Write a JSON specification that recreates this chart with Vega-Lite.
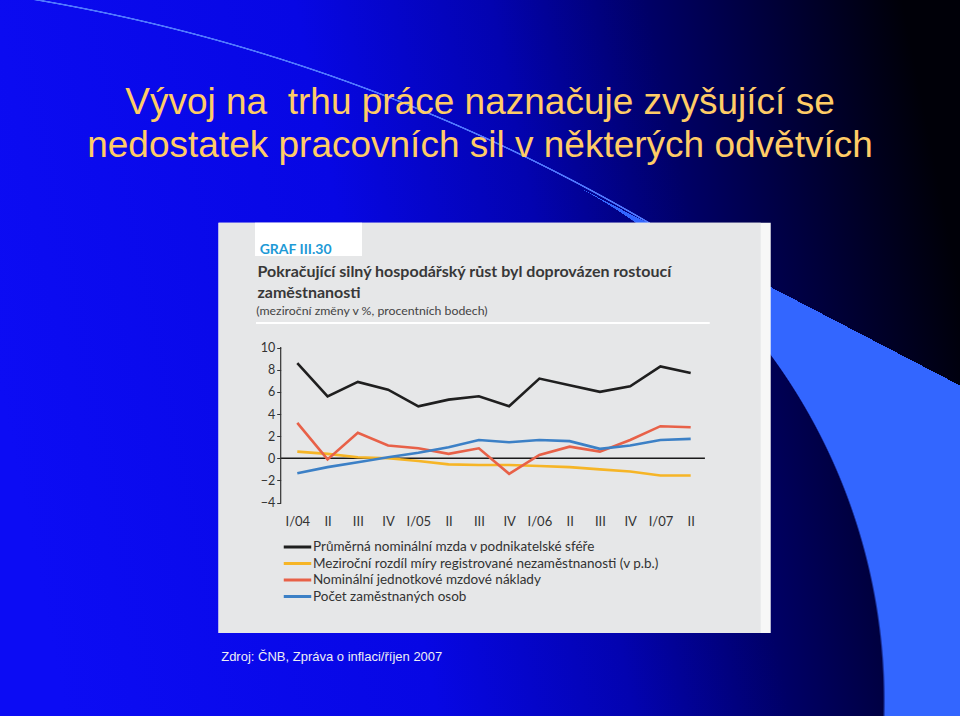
{
  "$schema": "https://vega.github.io/schema/vega-lite/v6.json",
  "width": 960,
  "height": 716,
  "autosize": {"type": "none"},
  "padding": 0,
  "background": "#0505C8",
  "view": {"stroke": null},
  "config": {"font": "Lato"},
  "title": {
    "text": ["Vývoj na\u00a0 trhu práce naznačuje zvyšující se", "nedostatek pracovních sil v některých odvětvích"],
    "font": "Liberation Sans",
    "fontSize": 37,
    "fontWeight": "normal",
    "color": "#FFCC66",
    "anchor": "middle",
    "frame": "group",
    "lineHeight": 43,
    "offset": -165
  },
  "datasets": {
    "series": [
      {"s": "Průměrná nominální mzda v podnikatelské sféře", "i": 0, "v": 8.6},
      {"s": "Průměrná nominální mzda v podnikatelské sféře", "i": 1, "v": 5.6},
      {"s": "Průměrná nominální mzda v podnikatelské sféře", "i": 2, "v": 6.9},
      {"s": "Průměrná nominální mzda v podnikatelské sféře", "i": 3, "v": 6.2},
      {"s": "Průměrná nominální mzda v podnikatelské sféře", "i": 4, "v": 4.7},
      {"s": "Průměrná nominální mzda v podnikatelské sféře", "i": 5, "v": 5.3},
      {"s": "Průměrná nominální mzda v podnikatelské sféře", "i": 6, "v": 5.6},
      {"s": "Průměrná nominální mzda v podnikatelské sféře", "i": 7, "v": 4.7},
      {"s": "Průměrná nominální mzda v podnikatelské sféře", "i": 8, "v": 7.2},
      {"s": "Průměrná nominální mzda v podnikatelské sféře", "i": 9, "v": 6.6},
      {"s": "Průměrná nominální mzda v podnikatelské sféře", "i": 10, "v": 6.0},
      {"s": "Průměrná nominální mzda v podnikatelské sféře", "i": 11, "v": 6.5},
      {"s": "Průměrná nominální mzda v podnikatelské sféře", "i": 12, "v": 8.3},
      {"s": "Průměrná nominální mzda v podnikatelské sféře", "i": 13, "v": 7.7},
      {"s": "Meziroční rozdíl míry registrované nezaměstnanosti (v p.b.)", "i": 0, "v": 0.6},
      {"s": "Meziroční rozdíl míry registrované nezaměstnanosti (v p.b.)", "i": 1, "v": 0.4},
      {"s": "Meziroční rozdíl míry registrované nezaměstnanosti (v p.b.)", "i": 2, "v": 0.1},
      {"s": "Meziroční rozdíl míry registrované nezaměstnanosti (v p.b.)", "i": 3, "v": 0.0},
      {"s": "Meziroční rozdíl míry registrované nezaměstnanosti (v p.b.)", "i": 4, "v": -0.25},
      {"s": "Meziroční rozdíl míry registrované nezaměstnanosti (v p.b.)", "i": 5, "v": -0.55},
      {"s": "Meziroční rozdíl míry registrované nezaměstnanosti (v p.b.)", "i": 6, "v": -0.6},
      {"s": "Meziroční rozdíl míry registrované nezaměstnanosti (v p.b.)", "i": 7, "v": -0.6},
      {"s": "Meziroční rozdíl míry registrované nezaměstnanosti (v p.b.)", "i": 8, "v": -0.7},
      {"s": "Meziroční rozdíl míry registrované nezaměstnanosti (v p.b.)", "i": 9, "v": -0.8},
      {"s": "Meziroční rozdíl míry registrované nezaměstnanosti (v p.b.)", "i": 10, "v": -1.0},
      {"s": "Meziroční rozdíl míry registrované nezaměstnanosti (v p.b.)", "i": 11, "v": -1.2},
      {"s": "Meziroční rozdíl míry registrované nezaměstnanosti (v p.b.)", "i": 12, "v": -1.55},
      {"s": "Meziroční rozdíl míry registrované nezaměstnanosti (v p.b.)", "i": 13, "v": -1.55},
      {"s": "Nominální jednotkové mzdové náklady", "i": 0, "v": 3.2},
      {"s": "Nominální jednotkové mzdové náklady", "i": 1, "v": -0.1},
      {"s": "Nominální jednotkové mzdové náklady", "i": 2, "v": 2.3},
      {"s": "Nominální jednotkové mzdové náklady", "i": 3, "v": 1.15},
      {"s": "Nominální jednotkové mzdové náklady", "i": 4, "v": 0.9},
      {"s": "Nominální jednotkové mzdové náklady", "i": 5, "v": 0.4},
      {"s": "Nominální jednotkové mzdové náklady", "i": 6, "v": 0.9},
      {"s": "Nominální jednotkové mzdové náklady", "i": 7, "v": -1.4},
      {"s": "Nominální jednotkové mzdové náklady", "i": 8, "v": 0.3},
      {"s": "Nominální jednotkové mzdové náklady", "i": 9, "v": 1.05},
      {"s": "Nominální jednotkové mzdové náklady", "i": 10, "v": 0.6},
      {"s": "Nominální jednotkové mzdové náklady", "i": 11, "v": 1.65},
      {"s": "Nominální jednotkové mzdové náklady", "i": 12, "v": 2.9},
      {"s": "Nominální jednotkové mzdové náklady", "i": 13, "v": 2.8},
      {"s": "Počet zaměstnaných osob", "i": 0, "v": -1.35},
      {"s": "Počet zaměstnaných osob", "i": 1, "v": -0.8},
      {"s": "Počet zaměstnaných osob", "i": 2, "v": -0.35},
      {"s": "Počet zaměstnaných osob", "i": 3, "v": 0.1},
      {"s": "Počet zaměstnaných osob", "i": 4, "v": 0.5},
      {"s": "Počet zaměstnaných osob", "i": 5, "v": 1.0},
      {"s": "Počet zaměstnaných osob", "i": 6, "v": 1.65},
      {"s": "Počet zaměstnaných osob", "i": 7, "v": 1.45},
      {"s": "Počet zaměstnaných osob", "i": 8, "v": 1.65},
      {"s": "Počet zaměstnaných osob", "i": 9, "v": 1.55},
      {"s": "Počet zaměstnaných osob", "i": 10, "v": 0.85},
      {"s": "Počet zaměstnaných osob", "i": 11, "v": 1.15},
      {"s": "Počet zaměstnaných osob", "i": 12, "v": 1.65},
      {"s": "Počet zaměstnaných osob", "i": 13, "v": 1.75}
    ]
  },
  "layer": [
    {
      "data": {"values": [{}]},
      "mark": {
        "type": "rect",
        "fill": {
          "gradient": "linear",
          "x1": 0, "y1": 0.55, "x2": 1, "y2": 0.4,
          "stops": [
            {"offset": 0, "color": "#0C0CF4"},
            {"offset": 0.38, "color": "#0707E4"},
            {"offset": 0.58, "color": "#0303B0"},
            {"offset": 0.74, "color": "#000066"},
            {"offset": 0.9, "color": "#00002C"},
            {"offset": 1, "color": "#000008"}
          ]
        }
      },
      "encoding": {}
    },
    {
      "data": {"values": [{}]},
      "mark": {
        "type": "rect",
        "fill": {
          "gradient": "radial",
          "x1": -0.28083, "y1": 1.99479, "r1": 0,
          "x2": -0.28083, "y2": 1.99479, "r2": 1.89688,
          "stops": [
            {"offset": 0, "color": "rgba(80,120,255,0)"},
            {"offset": 0.99835, "color": "rgba(80,120,255,0)"},
            {"offset": 0.99865, "color": "#5078FF"},
            {"offset": 0.99925, "color": "#5078FF"},
            {"offset": 0.99955, "color": "rgba(80,120,255,0)"},
            {"offset": 1, "color": "rgba(80,120,255,0)"}
          ]
        }
      },
      "encoding": {}
    },
    {
      "data": {"values": [{}]},
      "mark": {
        "type": "rect",
        "fill": {
          "gradient": "radial",
          "x1": 0.63302, "y1": 2.09896, "r1": 1.5625,
          "x2": 0.31146, "y2": 0.85625, "r2": 0.60833,
          "stops": [
            {"offset": 0, "color": "rgba(51,102,255,0)"},
            {"offset": 0.002, "color": "#3366FF"},
            {"offset": 0.998, "color": "#3366FF"},
            {"offset": 1, "color": "rgba(51,102,255,0)"}
          ]
        }
      },
      "encoding": {}
    },
    {
      "data": {"values": [{}]},
      "mark": {"type": "rect", "color": "#F7F7F7"},
      "encoding": {
        "x": {"datum": -2.604, "type": "quantitative", "scale": {"domain": [-9.825, 21.9], "nice": false, "zero": false}},
        "x2": {"datum": 15.645},
        "y": {"datum": 21.28, "type": "quantitative", "scale": {"domain": [-23.28, 41.4], "nice": false, "zero": false}},
        "y2": {"datum": -15.78}
      }
    },
    {
      "data": {"values": [{}]},
      "mark": {"type": "rect", "color": "#E6E7E8"},
      "encoding": {
        "x": {"datum": -2.604, "type": "quantitative", "scale": {"domain": [-9.825, 21.9], "nice": false, "zero": false}},
        "x2": {"datum": 15.314},
        "y": {"datum": 21.28, "type": "quantitative", "scale": {"domain": [-23.28, 41.4], "nice": false, "zero": false}},
        "y2": {"datum": -15.78}
      }
    },
    {
      "data": {"values": [{}]},
      "mark": {"type": "rect", "color": "#FFFFFF"},
      "encoding": {
        "x": {"datum": -1.398, "type": "quantitative", "scale": {"domain": [-9.825, 21.9], "nice": false, "zero": false}},
        "x2": {"datum": 2.138},
        "y": {"datum": 21.28, "type": "quantitative", "scale": {"domain": [-23.28, 41.4], "nice": false, "zero": false}},
        "y2": {"datum": 18.27}
      }
    },
    {
      "data": {"values": [{}]},
      "mark": {"type": "rule", "color": "#FFFFFF", "strokeWidth": 2},
      "encoding": {
        "x": {"datum": -1.365, "type": "quantitative", "scale": {"domain": [-9.825, 21.9], "nice": false, "zero": false}},
        "x2": {"datum": 13.63},
        "y": {"datum": 12.22, "type": "quantitative", "scale": {"domain": [-23.28, 41.4], "nice": false, "zero": false}}
      }
    },
    {
      "data": {"values": [{}]},
      "mark": {"type": "rule", "color": "#1A1A1A", "strokeWidth": 1.5},
      "encoding": {
        "x": {"datum": -0.549, "type": "quantitative", "scale": {"domain": [-9.825, 21.9], "nice": false, "zero": false}},
        "x2": {"datum": 13.47},
        "y": {"datum": 0, "type": "quantitative", "scale": {"domain": [-23.28, 41.4], "nice": false, "zero": false}}
      }
    },
    {
      "data": {"values": [{}]},
      "mark": {"type": "rule", "color": "#333333", "strokeWidth": 1.2},
      "encoding": {
        "x": {"datum": -0.549, "type": "quantitative", "scale": {"domain": [-9.825, 21.9], "nice": false, "zero": false}},
        "y": {"datum": -4.05, "type": "quantitative", "scale": {"domain": [-23.28, 41.4], "nice": false, "zero": false}},
        "y2": {"datum": 10.05}
      }
    },
    {
      "data": {"name": "series"},
      "mark": {"type": "line", "strokeWidth": 2.6, "strokeJoin": "miter", "strokeCap": "butt"},
      "encoding": {
        "x": {
          "field": "i",
          "type": "quantitative",
          "scale": {"domain": [-9.825, 21.9], "nice": false, "zero": false},
          "axis": {
            "zindex": 2,
            "values": [0, 1, 2, 3, 4, 5, 6, 7, 8, 9, 10, 11, 12, 13],
            "labelExpr": "['I/04','II','III','IV','I/05','II','III','IV','I/06','II','III','IV','I/07','II'][datum.value]",
            "offset": -201,
            "ticks": false,
            "domain": false,
            "grid": false,
            "labelPadding": 0,
            "labelFont": "Lato",
            "labelFontSize": 13,
            "labelColor": "#333333",
            "labelOverlap": false,
            "labelFlush": false,
            "title": "Zdroj: ČNB, Zpráva o inflaci/říjen 2007",
            "titleX": 220.7,
            "titleY": 145.7,
            "titleAlign": "left",
            "titleBaseline": "alphabetic",
            "titleFont": "Liberation Sans",
            "titleFontSize": 13,
            "titleFontWeight": "normal",
            "titleColor": "#EEEEF4"
          }
        },
        "y": {
          "field": "v",
          "type": "quantitative",
          "scale": {"domain": [-23.28, 41.4], "nice": false, "zero": false},
          "axis": {
            "zindex": 2,
            "values": [-4, -2, 0, 2, 4, 6, 8, 10],
            "offset": -280.7,
            "domain": false,
            "grid": false,
            "ticks": true,
            "tickSize": 4,
            "tickColor": "#333333",
            "tickWidth": 1,
            "labelPadding": 2,
            "labelFont": "Lato",
            "labelFontSize": 12.5,
            "labelColor": "#333333",
            "title": ["Pokračující silný hospodářský růst byl doprovázen rostoucí", "zaměstnanosti"],
            "titleX": -23.7,
            "titleY": 276.5,
            "titleAngle": 0,
            "titleAlign": "left",
            "titleBaseline": "alphabetic",
            "titleFont": "Lato",
            "titleFontSize": 16,
            "titleFontWeight": "bold",
            "titleColor": "#383838",
            "titleLineHeight": 20.5
          }
        },
        "color": {
          "field": "s",
          "type": "nominal",
          "scale": {
            "domain": ["Průměrná nominální mzda v podnikatelské sféře", "Meziroční rozdíl míry registrované nezaměstnanosti (v p.b.)", "Nominální jednotkové mzdové náklady", "Počet zaměstnaných osob"],
            "range": ["#1F1F1F", "#F6B526", "#E86148", "#3C80C6"]
          },
          "legend": {
            "title": null,
            "orient": "none",
            "legendX": 290.5,
            "legendY": 540,
            "padding": 0,
            "symbolType": "M-2.5,0H2.5",
            "symbolSize": 121,
            "symbolStrokeWidth": 3,
            "labelOffset": 8.5,
            "labelFont": "Lato",
            "labelFontSize": 13.5,
            "labelColor": "#333333",
            "labelLimit": 600,
            "rowPadding": 2.5
          }
        }
      }
    },
    {
      "data": {"values": [{}]},
      "mark": {"type": "text", "text": "GRAF III.30", "font": "Lato", "fontSize": 14, "fontWeight": "bold", "color": "#1E9AD6", "align": "left", "baseline": "alphabetic"},
      "encoding": {
        "x": {"datum": -1.243, "type": "quantitative", "scale": {"domain": [-9.825, 21.9], "nice": false, "zero": false}},
        "y": {"datum": 18.48, "type": "quantitative", "scale": {"domain": [-23.28, 41.4], "nice": false, "zero": false}}
      }
    },
    {
      "data": {"values": [{}]},
      "mark": {"type": "text", "text": "(meziroční změny v %, procentních bodech)", "font": "Lato", "fontSize": 12.3, "color": "#444444", "align": "left", "baseline": "alphabetic"},
      "encoding": {
        "x": {"datum": -1.355, "type": "quantitative", "scale": {"domain": [-9.825, 21.9], "nice": false, "zero": false}},
        "y": {"datum": 12.94, "type": "quantitative", "scale": {"domain": [-23.28, 41.4], "nice": false, "zero": false}}
      }
    }
  ]
}
